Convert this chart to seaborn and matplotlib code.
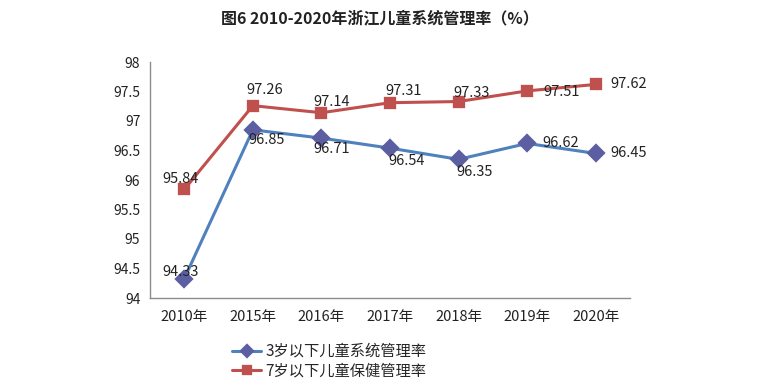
import matplotlib
matplotlib.use("Agg")
import matplotlib.pyplot as plt
import seaborn as sns
import pandas as pd

# 数据
years = ["2010年", "2015年", "2016年", "2017年", "2018年", "2019年", "2020年"]
rate_under3 = [94.33, 96.85, 96.71, 96.54, 96.35, 96.62, 96.45]
rate_under7 = [95.84, 97.26, 97.14, 97.31, 97.33, 97.51, 97.62]
series_names = ["3岁以下儿童系统管理率", "7岁以下儿童保健管理率"]
title = "图6 2010-2020年浙江儿童系统管理率（%）"
yticks = [94, 94.5, 95, 95.5, 96, 96.5, 97, 97.5, 98]

# 数据标签偏移 (像素)
off_under3 = [(-4, 7), (14, -10), (10, -11), (17, -13), (16, -13), (34, 0), (33, 0)]
off_under7 = [(-4, 10), (12, 16), (10, 11), (14, 12), (13, 9), (34, -1), (33, 0)]

sns.set_style("white")
plt.rcParams["font.family"] = ["Noto Sans CJK SC", "DejaVu Sans"]

df = pd.DataFrame({
    "year": years * 2,
    "value": rate_under3 + rate_under7,
    "series": [series_names[0]] * len(years) + [series_names[1]] * len(years),
})

fig = plt.figure(figsize=(7.6, 3.9), dpi=100)
ax = fig.add_axes([150 / 760, 1 - 298 / 390, (630 - 150) / 760, (298 - 62) / 390])

blue_line, blue_mk = "#4F81BD", "#5C5EA2"
red_line, red_mk = "#C0504D", "#C0504D"

sns.pointplot(
    data=df, x="year", y="value", hue="series", order=years,
    hue_order=series_names, palette=[blue_line, red_line],
    markers=["D", "s"], linestyles=["-", "-"], errorbar=None,
    legend=False, ax=ax, markersize=7.5, linewidth=2.2,
)

lines = [l for l in ax.lines if len(l.get_xdata()) == len(years)]
lines[0].set_markerfacecolor(blue_mk)
lines[0].set_markeredgecolor(blue_mk)
lines[0].set_markersize(8)
lines[1].set_markerfacecolor(red_mk)
lines[1].set_markeredgecolor(red_mk)
lines[1].set_markersize(7)

ax.set_ylim(94, 98)
ax.set_xlim(-0.5, len(years) - 0.5)
ax.set_yticks(yticks)
ax.set_yticklabels([f"{v:g}" for v in yticks])
ax.set_xlabel("")
ax.set_ylabel("")
for s in ["top", "right"]:
    ax.spines[s].set_visible(False)
for s in ["left", "bottom"]:
    ax.spines[s].set_color("#8C8C8C")
    ax.spines[s].set_linewidth(1)
ax.tick_params(axis="y", length=4, color="#8C8C8C", labelsize=10, pad=3, labelcolor="#222222")
ax.tick_params(axis="x", length=0, labelsize=10.5, pad=9, labelcolor="#222222")

# 数据标签
for i, v in enumerate(rate_under3):
    ax.annotate(f"{v:.2f}", (i, v), xytext=off_under3[i], textcoords="offset pixels",
                ha="center", va="center", fontsize=10.5, color="#222222")
for i, v in enumerate(rate_under7):
    ax.annotate(f"{v:.2f}", (i, v), xytext=off_under7[i], textcoords="offset pixels",
                ha="center", va="center", fontsize=10.5, color="#222222")

fig.text(380 / 760, 1 - 18 / 390, title, ha="center", va="center",
         fontsize=11.5, fontweight="bold", color="#222222")

fig.legend(handles=lines, labels=series_names, loc="center left",
           bbox_to_anchor=(232 / 760, 1 - 361 / 390), frameon=False,
           fontsize=11, handlelength=1.9, handletextpad=0.3, markerscale=0.75,
           labelspacing=0.15, borderpad=0, borderaxespad=0)

fig.savefig("out.png", dpi=100)
